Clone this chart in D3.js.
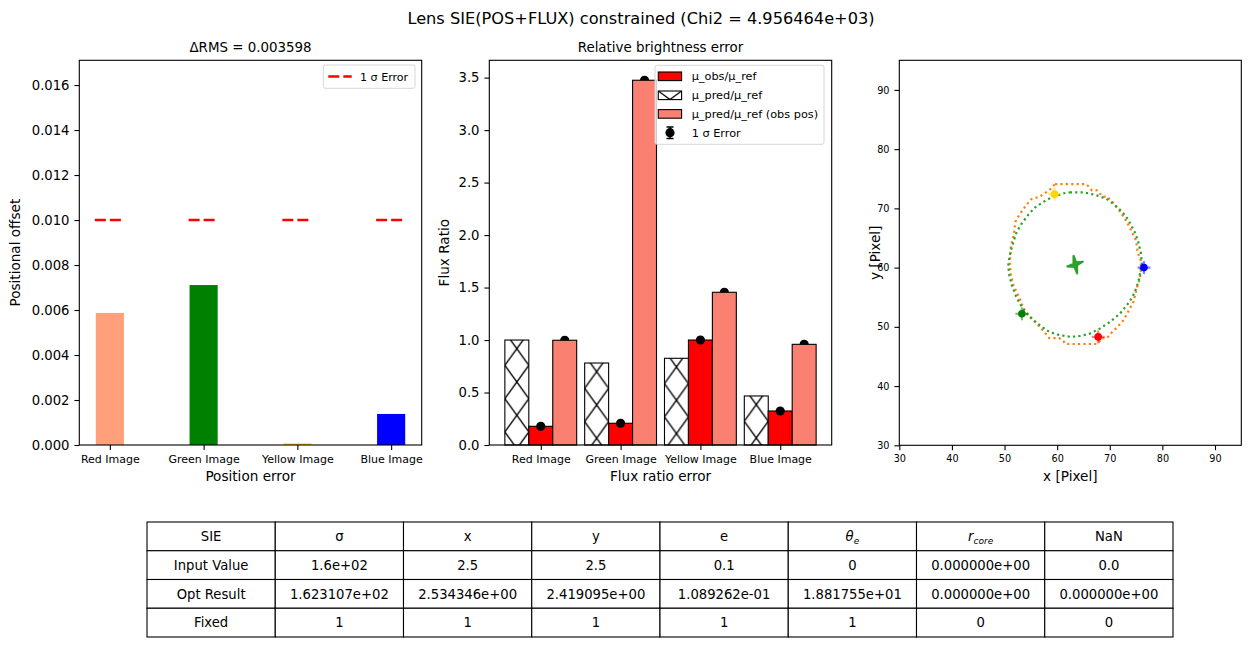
<!DOCTYPE html>
<html>
<head>
<meta charset="utf-8">
<script src="https://cdn.jsdelivr.net/npm/d3@7"></script>
<style>
  body { margin: 0; background: #fff; }
  text { font-family: "DejaVu Sans", sans-serif; fill: #000; }
</style>
</head>
<body>
<div id="chart"></div>
<script>
// ---- data ----
const categories = ['Red Image', 'Green Image', 'Yellow Image', 'Blue Image'];

// left panel: positional offset per image and the 1 sigma line
const posOffset = [0.00587, 0.00711, 0.00007, 0.00138];
const posSigma = [0.01, 0.01, 0.01, 0.01];
const posColors = ['#ffa07a', '#008000', '#ffd700', '#0000ff'];

// middle panel: flux ratios
const fluxPred = [1.0, 0.781, 0.826, 0.467];
const fluxObs = [0.178, 0.207, 1.0, 0.324];
const fluxPredObsPos = [0.998, 3.475, 1.455, 0.959];

// right panel: image positions [x, y] (pixel)
const imgColors = ['#ff0000', '#008000', '#ffd700', '#0000ff'];
const imgX = [67.8, 53.3, 59.5, 76.5];
const imgY = [48.3, 52.2, 72.4, 60.0];

// critical curve (model), read as vertices
const critCurve = [
  [62.4, 72.7], [64.9, 72.7], [65.9, 72.55], [67.5, 72.2], [69.4, 71.6], [70.9, 70.6],
  [72.3, 69.5], [73.5, 68.1], [74.7, 66.1], [75.4, 64.4], [75.9, 62.5], [76.1, 60.8],
  [75.9, 59.8], [75.6, 58.2], [75.1, 56.7], [74.3, 55.0], [73.2, 53.6], [71.9, 52.2],
  [70.0, 50.8], [68.1, 49.7], [66.2, 48.85], [64.3, 48.45], [62.6, 48.3], [60.5, 48.6],
  [58.6, 49.1], [57.1, 50.0], [55.5, 51.1], [54.2, 52.2], [53.3, 53.35], [52.3, 54.9],
  [51.4, 57.0], [50.9, 58.7], [50.7, 60.3], [50.85, 61.3], [51.2, 62.85], [51.7, 64.4],
  [52.3, 66.0], [53.3, 67.5], [54.4, 68.8], [55.7, 70.1], [57.2, 71.0], [59.0, 71.9],
  [60.5, 72.3], [61.5, 72.6], [62.4, 72.7]
];
// critical curve on the pixel grid
const critGrid = [
  [59.6, 74.1], [65.5, 74.1], [66.1, 73.6], [66.6, 73.05], [67.6, 73.05], [68.6, 72.0],
  [69.5, 72.0], [70.7, 70.9], [71.9, 69.5], [73.2, 67.8], [74.1, 66.2], [75.0, 64.5],
  [75.3, 62.6], [75.9, 61.2], [75.9, 59.3], [75.7, 58.1], [75.1, 56.4], [74.5, 54.2],
  [73.8, 53.05], [72.6, 51.1], [71.6, 50.1], [70.0, 48.7], [69.5, 48.1], [68.6, 48.1],
  [67.6, 47.1], [61.6, 47.1], [61.2, 47.55], [60.4, 48.1], [58.5, 48.1], [57.6, 49.1],
  [55.7, 51.0], [54.5, 52.05], [53.6, 53.1], [52.6, 55.3], [51.7, 57.0], [51.2, 58.7],
  [51.0, 60.6], [51.2, 63.6], [51.8, 65.7], [52.05, 67.7], [52.9, 69.05], [54.1, 70.5],
  [55.0, 71.5], [56.7, 72.0], [58.5, 73.05], [59.6, 74.1]
];
// caustic
const caustic = [
  [63.1, 62.1], [63.6, 60.9], [64.9, 61.0], [63.8, 60.4], [63.8, 59.0],
  [63.3, 60.1], [61.9, 60.2], [63.1, 60.6], [63.1, 62.1]
];

const xTicksPix = [30, 40, 50, 60, 70, 80, 90];
const yTicksPix = [30, 40, 50, 60, 70, 80, 90];

// table
const tableHeader = ['SIE', 'σ', 'x', 'y', 'e', 'θ_e', 'r_core', 'NaN'];
const rowInput = ['Input Value', '1.6e+02', '2.5', '2.5', '0.1', '0', '0.000000e+00', '0.0'];
const rowOpt = ['Opt Result', '1.623107e+02', '2.534346e+00', '2.419095e+00', '1.089262e-01', '1.881755e+01', '0.000000e+00', '0.000000e+00'];
const rowFixed = ['Fixed', '1', '1', '1', '1', '1', '0', '0'];

// ---- drawing ----
const svg = d3.select('#chart').append('svg')
  .attr('width', 1251)
  .attr('height', 647);

const defs = svg.append('defs');
const TICK = 4.9;

svg.append('text')
  .attr('x', 641).attr('y', 24)
  .attr('text-anchor', 'middle')
  .attr('font-size', 16.2)
  .text('Lens SIE(POS+FLUX) constrained (Chi2 = 4.956464e+03)');

function frame(x0, x1, y0, y1) {
  svg.append('rect')
    .attr('x', x0).attr('y', y0)
    .attr('width', x1 - x0).attr('height', y1 - y0)
    .attr('fill', 'none')
    .attr('stroke', '#000')
    .attr('stroke-width', 1.1);
}

function styleAxis(g, size) {
  g.select('.domain').remove();
  g.selectAll('text').attr('font-size', size).attr('font-family', '"DejaVu Sans", sans-serif');
  g.selectAll('line').attr('stroke-width', 1.1);
}

// ===== left panel =====
const L = { x0: 79.3, x1: 421.7, y0: 60.3, y1: 445 };
const xL = d3.scaleLinear().domain([-0.326, 3.326]).range([L.x0, L.x1]);
const yL = d3.scaleLinear().domain([0, 0.0171]).range([L.y1, L.y0]);

svg.append('g')
  .selectAll('rect')
  .data(posOffset)
  .enter().append('rect')
  .attr('x', (d, i) => xL(i - 0.15))
  .attr('width', xL(0.3) - xL(0))
  .attr('y', d => yL(d))
  .attr('height', d => yL(0) - yL(d))
  .attr('fill', (d, i) => posColors[i]);

svg.append('g')
  .selectAll('line')
  .data(posSigma)
  .enter().append('line')
  .attr('x1', (d, i) => xL(i - 0.16))
  .attr('x2', (d, i) => xL(i + 0.16))
  .attr('y1', d => yL(d))
  .attr('y2', d => yL(d))
  .attr('stroke', '#ff0000')
  .attr('stroke-width', 2.6)
  .attr('stroke-dasharray', '11,4');

frame(L.x0, L.x1, L.y0, L.y1);

svg.append('g')
  .attr('transform', `translate(0,${L.y1})`)
  .call(d3.axisBottom(xL).tickValues([0, 1, 2, 3]).tickFormat(i => categories[i]).tickSize(TICK).tickPadding(4.9))
  .call(g => styleAxis(g, 11));

svg.append('g')
  .attr('transform', `translate(${L.x0},0)`)
  .call(d3.axisLeft(yL).tickValues(d3.range(0, 0.0161, 0.002)).tickFormat(d3.format('.3f')).tickSize(TICK).tickPadding(4.9))
  .call(g => styleAxis(g, 13.2));

svg.append('text')
  .attr('x', (L.x0 + L.x1) / 2).attr('y', 52)
  .attr('text-anchor', 'middle').attr('font-size', 13.4)
  .text('ΔRMS = 0.003598');

svg.append('text')
  .attr('x', (L.x0 + L.x1) / 2).attr('y', 481)
  .attr('text-anchor', 'middle').attr('font-size', 13.6)
  .text('Position error');

svg.append('text')
  .attr('transform', `translate(20,${(L.y0 + L.y1) / 2}) rotate(-90)`)
  .attr('text-anchor', 'middle').attr('font-size', 13.6)
  .text('Positional offset');

// left legend
const lg = svg.append('g');
lg.append('rect')
  .attr('x', 323.3).attr('y', 65).attr('width', 91.7).attr('height', 23.3).attr('rx', 2)
  .attr('fill', '#fff').attr('fill-opacity', 0.8).attr('stroke', '#d6d6d6');
lg.append('line')
  .attr('x1', 328.3).attr('x2', 351.7).attr('y1', 76.5).attr('y2', 76.5)
  .attr('stroke', '#ff0000').attr('stroke-width', 2.6).attr('stroke-dasharray', '11,4');
lg.append('text')
  .attr('x', 360).attr('y', 80.5).attr('font-size', 11.1)
  .text('1 σ Error');

// ===== middle panel =====
const M = { x0: 489.3, x1: 831.7, y0: 60.3, y1: 445 };
const xM = d3.scaleLinear().domain([-0.645, 3.645]).range([M.x0, M.x1]);
const yM = d3.scaleLinear().domain([0, 3.665]).range([M.y1, M.y0]);
const bw = xM(0.3) - xM(0);

// one hatch pattern per bar so the cross sits centred in each bar
defs.selectAll('pattern.bar')
  .data(fluxPred.concat([0]))
  .enter().append('pattern')
  .attr('id', (d, i) => 'hatch' + i)
  .attr('patternUnits', 'userSpaceOnUse')
  .attr('x', (d, i) => i < 4 ? xM(i - 0.45) : 658.3)
  .attr('y', (d, i) => i < 4 ? yM(d) - 8 : 91)
  .attr('width', (d, i) => i < 4 ? bw : 23.3)
  .attr('height', (d, i) => i < 4 ? 33.3 : 17)
  .each(function (d, i) {
    const w = i < 4 ? bw : 23.3;
    const h = i < 4 ? 33.3 : 17;
    const p = d3.select(this);
    p.append('rect').attr('width', w).attr('height', h).attr('fill', '#fff');
    p.append('line').attr('x1', 0).attr('y1', 0).attr('x2', w).attr('y2', h)
      .attr('stroke', '#000').attr('stroke-width', 1.3);
    p.append('line').attr('x1', w).attr('y1', 0).attr('x2', 0).attr('y2', h)
      .attr('stroke', '#000').attr('stroke-width', 1.3);
  });

// hatched predicted bars
svg.append('g')
  .selectAll('rect')
  .data(fluxPred)
  .enter().append('rect')
  .attr('x', (d, i) => xM(i - 0.45))
  .attr('width', bw)
  .attr('y', d => yM(d))
  .attr('height', d => yM(0) - yM(d))
  .attr('fill', (d, i) => `url(#hatch${i})`)
  .attr('stroke', '#000')
  .attr('stroke-width', 1.1);

// observed bars
svg.append('g')
  .selectAll('rect')
  .data(fluxObs)
  .enter().append('rect')
  .attr('x', (d, i) => xM(i - 0.15))
  .attr('width', bw)
  .attr('y', d => yM(d))
  .attr('height', d => yM(0) - yM(d))
  .attr('fill', '#ff0000')
  .attr('stroke', '#000')
  .attr('stroke-width', 1.1);

// markers that sit behind the salmon bars
svg.append('g')
  .selectAll('circle')
  .data(fluxPredObsPos)
  .enter().append('circle')
  .attr('cx', (d, i) => xM(i + 0.3))
  .attr('cy', d => yM(d))
  .attr('r', 4.6)
  .attr('fill', '#000');

svg.append('g')
  .selectAll('rect')
  .data(fluxPredObsPos)
  .enter().append('rect')
  .attr('x', (d, i) => xM(i + 0.15))
  .attr('width', bw)
  .attr('y', d => yM(d))
  .attr('height', d => yM(0) - yM(d))
  .attr('fill', '#fa8072')
  .attr('stroke', '#000')
  .attr('stroke-width', 1.1);

// error points on observed bars
svg.append('g')
  .selectAll('circle')
  .data(fluxObs)
  .enter().append('circle')
  .attr('cx', (d, i) => xM(i))
  .attr('cy', d => yM(d))
  .attr('r', 4.6)
  .attr('fill', '#000');

frame(M.x0, M.x1, M.y0, M.y1);

svg.append('g')
  .attr('transform', `translate(0,${M.y1})`)
  .call(d3.axisBottom(xM).tickValues([0, 1, 2, 3]).tickFormat(i => categories[i]).tickSize(TICK).tickPadding(4.9))
  .call(g => styleAxis(g, 11));

svg.append('g')
  .attr('transform', `translate(${M.x0},0)`)
  .call(d3.axisLeft(yM).tickValues(d3.range(0, 3.51, 0.5)).tickFormat(d3.format('.1f')).tickSize(TICK).tickPadding(4.9))
  .call(g => styleAxis(g, 13.2));

svg.append('text')
  .attr('x', (M.x0 + M.x1) / 2).attr('y', 52)
  .attr('text-anchor', 'middle').attr('font-size', 13.4)
  .text('Relative brightness error');

svg.append('text')
  .attr('x', (M.x0 + M.x1) / 2).attr('y', 481)
  .attr('text-anchor', 'middle').attr('font-size', 13.6)
  .text('Flux ratio error');

svg.append('text')
  .attr('transform', `translate(449,${(M.y0 + M.y1) / 2}) rotate(-90)`)
  .attr('text-anchor', 'middle').attr('font-size', 13.6)
  .text('Flux Ratio');

// middle legend
const mg = svg.append('g');
mg.append('rect')
  .attr('x', 655).attr('y', 65.3).attr('width', 169).attr('height', 79).attr('rx', 2)
  .attr('fill', '#fff').attr('fill-opacity', 0.8).attr('stroke', '#d6d6d6');
const legItems = [
  { label: 'μ_obs/μ_ref', fill: '#ff0000', y: 76.3 },
  { label: 'μ_pred/μ_ref', fill: 'url(#hatch4)', y: 95.3 },
  { label: 'μ_pred/μ_ref (obs pos)', fill: '#fa8072', y: 113.9 }
];
mg.selectAll('rect.patch')
  .data(legItems)
  .enter().append('rect')
  .attr('class', 'patch')
  .attr('x', 658.3).attr('width', 23.3)
  .attr('y', d => d.y - 4.3).attr('height', 8.6)
  .attr('fill', d => d.fill)
  .attr('stroke', '#000').attr('stroke-width', 1.1);
mg.selectAll('text.lab')
  .data(legItems.concat([{ label: '1 σ Error', y: 132.7 }]))
  .enter().append('text')
  .attr('class', 'lab')
  .attr('x', 691.7).attr('y', d => d.y + 4)
  .attr('font-size', 11.3)
  .text(d => d.label);
mg.append('line').attr('x1', 670).attr('x2', 670).attr('y1', 127).attr('y2', 138.5)
  .attr('stroke', '#000').attr('stroke-width', 1.5);
mg.append('line').attr('x1', 666.5).attr('x2', 673.5).attr('y1', 127).attr('y2', 127)
  .attr('stroke', '#000').attr('stroke-width', 1.5);
mg.append('line').attr('x1', 666.5).attr('x2', 673.5).attr('y1', 138.5).attr('y2', 138.5)
  .attr('stroke', '#000').attr('stroke-width', 1.5);
mg.append('circle').attr('cx', 670).attr('cy', 132.7).attr('r', 4.6).attr('fill', '#000');

// ===== right panel =====
const R = { x0: 899.3, x1: 1241.3, y0: 60.3, y1: 445.3 };
const xR = d3.scaleLinear().domain([30, 95]).range([R.x0, R.x1]);
const yR = d3.scaleLinear().domain([30, 95]).range([R.y1, R.y0]);
const line = d3.line().x(d => xR(d[0])).y(d => yR(d[1]));

svg.append('path')
  .attr('d', line(critGrid))
  .attr('fill', 'none')
  .attr('stroke', '#ff7f0e')
  .attr('stroke-width', 2.2)
  .attr('stroke-dasharray', '2.2,3.2');

svg.append('path')
  .attr('d', line(critCurve))
  .attr('fill', 'none')
  .attr('stroke', '#2ca02c')
  .attr('stroke-width', 2.2)
  .attr('stroke-dasharray', '2.2,3.2');

svg.append('path')
  .attr('d', line(caustic))
  .attr('fill', '#2ca02c')
  .attr('stroke', '#2ca02c')
  .attr('stroke-width', 2)
  .attr('stroke-linejoin', 'round');

// observed positions: translucent crosses
const crosses = svg.append('g').attr('opacity', 0.5);
imgX.forEach((x, i) => {
  crosses.append('line')
    .attr('x1', xR(x) - 6.5).attr('x2', xR(x) + 6.5)
    .attr('y1', yR(imgY[i])).attr('y2', yR(imgY[i]))
    .attr('stroke', imgColors[i]).attr('stroke-width', 2.2);
  crosses.append('line')
    .attr('x1', xR(x)).attr('x2', xR(x))
    .attr('y1', yR(imgY[i]) - 6.5).attr('y2', yR(imgY[i]) + 6.5)
    .attr('stroke', imgColors[i]).attr('stroke-width', 2.2);
});

svg.append('g')
  .selectAll('circle')
  .data(imgX)
  .enter().append('circle')
  .attr('cx', d => xR(d))
  .attr('cy', (d, i) => yR(imgY[i]))
  .attr('r', 3.8)
  .attr('fill', (d, i) => imgColors[i]);

frame(R.x0, R.x1, R.y0, R.y1);

svg.append('g')
  .attr('transform', `translate(0,${R.y1})`)
  .call(d3.axisBottom(xR).tickValues(xTicksPix).tickSize(TICK).tickPadding(4.9))
  .call(g => styleAxis(g, 9.7));

svg.append('g')
  .attr('transform', `translate(${R.x0},0)`)
  .call(d3.axisLeft(yR).tickValues(yTicksPix).tickSize(TICK).tickPadding(4.9))
  .call(g => styleAxis(g, 9.7));

svg.append('text')
  .attr('x', (R.x0 + R.x1) / 2).attr('y', 481)
  .attr('text-anchor', 'middle').attr('font-size', 13.6)
  .text('x [Pixel]');

svg.append('text')
  .attr('transform', `translate(880,${(R.y0 + R.y1) / 2}) rotate(-90)`)
  .attr('text-anchor', 'middle').attr('font-size', 13.6)
  .text('y [Pixel]');

// ===== table =====
const rows = [tableHeader, rowInput, rowOpt, rowFixed];
const colX = d3.scaleBand().domain(d3.range(8)).range([147, 1173]);
const rowY = d3.scaleBand().domain(d3.range(4)).range([522, 637]);

const tg = svg.append('g');
rows.forEach((row, r) => {
  row.forEach((cell, c) => {
    tg.append('rect')
      .attr('x', colX(c)).attr('y', rowY(r))
      .attr('width', colX.bandwidth()).attr('height', rowY.bandwidth())
      .attr('fill', '#fff').attr('stroke', '#000').attr('stroke-width', 1.1);
    const t = tg.append('text')
      .attr('x', colX(c) + colX.bandwidth() / 2)
      .attr('y', rowY(r) + rowY.bandwidth() / 2 + 4.7)
      .attr('text-anchor', 'middle')
      .attr('font-size', 13.2);
    if (cell.includes('_')) {
      const parts = cell.split('_');
      t.append('tspan').attr('font-style', 'italic').text(parts[0]);
      t.append('tspan').attr('font-style', 'italic').attr('font-size', 9)
        .attr('dy', 3).text(parts[1]);
    } else {
      t.text(cell);
    }
  });
});
</script>
</body>
</html>
